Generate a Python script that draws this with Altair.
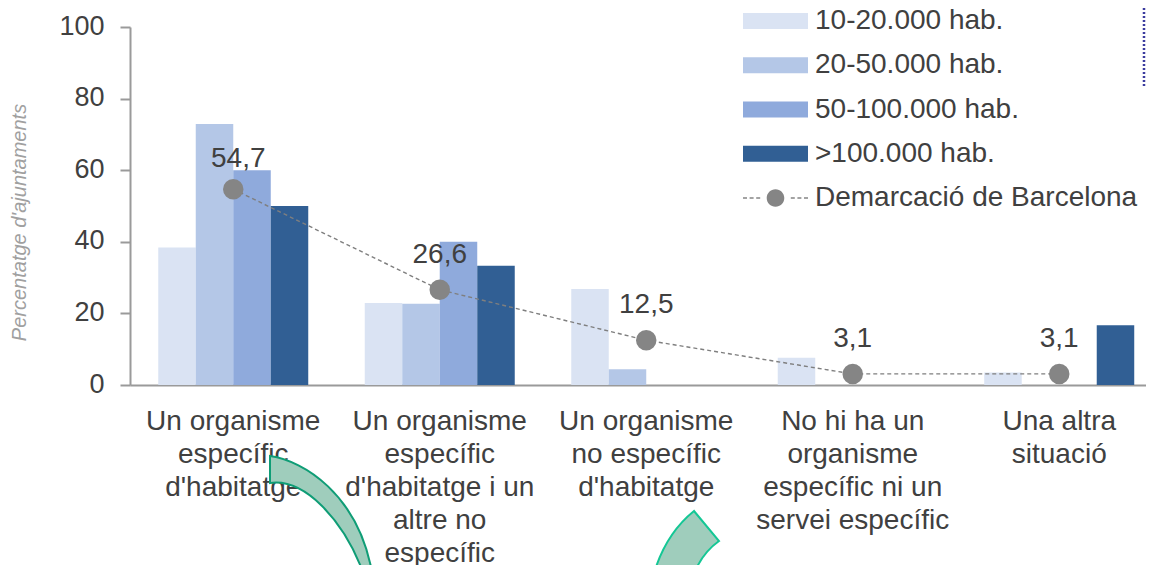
import altair as alt
import pandas as pd

categories = [
    "Un organisme|específic|d'habitatge",
    "Un organisme|específic|d'habitatge i un|altre no|específic",
    "Un organisme|no específic|d'habitatge",
    "No hi ha un|organisme|específic ni un|servei específic",
    "Una altra|situació",
]
bar_series = ["10-20.000 hab.", "20-50.000 hab.", "50-100.000 hab.", ">100.000 hab."]
line_series = "Demarcació de Barcelona"
v_10_20 = [38.4, 22.9, 26.8, 7.6, 3.5]
v_20_50 = [72.9, 22.7, 4.4, None, None]
v_50_100 = [60.0, 40.0, None, None, None]
v_100 = [50.0, 33.3, None, None, 16.7]
barcelona = [54.7, 26.6, 12.5, 3.1, 3.1]
barcelona_labels = ["54,7", "26,6", "12,5", "3,1", "3,1"]
colors = ["#dae3f3", "#b4c7e7", "#8faadc", "#315f94", "#858585"]

rows = []
for s, vals in zip(bar_series, [v_10_20, v_20_50, v_50_100, v_100]):
    for c, v in zip(categories, vals):
        if v is not None:
            rows.append({"cat": c, "series": s, "value": v})
bars_df = pd.DataFrame(rows)
line_df = pd.DataFrame({"cat": categories, "value": barcelona, "label": barcelona_labels, "series": line_series})
legend_df = pd.concat([bars_df, line_df[["cat", "series", "value"]]])
one = pd.DataFrame({"a": [0]})

FONT = "Liberation Sans"
TXT = "#404040"
AX = "#9a9a9a"

x_scale = alt.Scale(domain=categories, paddingInner=0.2736, paddingOuter=0.0969, align=0.706)
y_scale = alt.Scale(domain=[0, 100], nice=False)
all_series = bar_series + [line_series]
color_scale = alt.Scale(domain=all_series, range=colors)

X = alt.X("cat:N", scale=x_scale, sort=categories, title=None,
          axis=alt.Axis(labelExpr="split(datum.label, '|')", labelAngle=0, ticks=False,
                        domainColor=AX, domainWidth=2, labelFont=FONT, labelFontSize=28,
                        labelColor=TXT, labelPadding=36, labelLineHeight=33, labelLimit=0,
                        labelOverlap=False, labelBaseline="middle", grid=False))
Y = alt.Y("value:Q", scale=y_scale,
          axis=alt.Axis(values=[0, 20, 40, 60, 80, 100], tickSize=10, tickWidth=2, tickColor=AX,
                        domainColor=AX, domainWidth=2, labelFont=FONT, labelFontSize=27,
                        labelColor=TXT, labelPadding=16, labelOffset=-1, grid=False,
                        title="Percentatge d'ajuntaments", titleFont=FONT, titleFontSize=20,
                        titleFontStyle="italic", titleFontWeight="normal", titleColor="#a0a0a0",
                        titleX=-101, titleY=195, titleAngle=270))

BAR_SYM = "M-1.625,-0.4H1.625V0.4H-1.625Z"
LINE_SYM = ("M-1.625,-0.035H-1.425V0.035H-1.625Z M-1.295,-0.035H-1.095V0.035H-1.295Z "
            "M-0.965,-0.035H-0.765V0.035H-0.965Z M0.765,-0.035H0.965V0.035H0.765Z "
            "M1.095,-0.035H1.295V0.035H1.095Z M1.425,-0.035H1.625V0.035H1.425Z "
            "M-0.44,0A0.44,0.44 0 1,1 0.44,0A0.44,0.44 0 1,1 -0.44,0Z")
legend_cfg = alt.Legend(orient="none", legendX=625.5, legendY=-26, padding=0,
                        symbolSize=1600, symbolStrokeWidth=0, symbolOpacity=1,
                        labelFont=FONT, labelFontSize=28, labelColor=TXT, labelOffset=19.5,
                        rowPadding=10.25, labelLimit=0, title=None)

bars = alt.Chart(bars_df).mark_bar(stroke=None).encode(
    x=X, y=Y,
    xOffset=alt.XOffset("series:N", scale=alt.Scale(domain=bar_series, paddingInner=0, paddingOuter=0)),
    color=alt.Color("series:N", scale=color_scale, title=None, legend=legend_cfg),
)

line = alt.Chart(line_df).mark_line(color="#7f7f7f", strokeWidth=1.4, strokeDash=[4, 3]).encode(
    x=alt.X("cat:N", scale=x_scale, sort=categories), y=alt.Y("value:Q", scale=y_scale))
points = alt.Chart(line_df).mark_circle(color=colors[4], opacity=1, size=420).encode(
    x=alt.X("cat:N", scale=x_scale, sort=categories), y=alt.Y("value:Q", scale=y_scale))
labels_first = alt.Chart(line_df.iloc[:1]).mark_text(font=FONT, fontSize=28, color=TXT, dy=-30, dx=5).encode(
    x=alt.X("cat:N", scale=x_scale, sort=categories), y=alt.Y("value:Q", scale=y_scale), text="label:N")
labels_rest = alt.Chart(line_df.iloc[1:]).mark_text(font=FONT, fontSize=28, color=TXT, dy=-35).encode(
    x=alt.X("cat:N", scale=x_scale, sort=categories), y=alt.Y("value:Q", scale=y_scale), text="label:N")

legend_layer = alt.Chart(legend_df).mark_point(filled=True, opacity=0).encode(
    x=alt.X("cat:N", scale=x_scale, sort=categories),
    y=alt.Y("value:Q", scale=y_scale),
    color=alt.Color("series:N", scale=color_scale, title=None, legend=legend_cfg),
    shape=alt.Shape("series:N", scale=alt.Scale(domain=all_series, range=[BAR_SYM] * 4 + [LINE_SYM]),
                    title=None, legend=legend_cfg),
)

# Decorative shapes of the reference: relative to the plot origin, drawn as one custom symbol each
ARROW_1 = "M140,429 C175,434 226,468 241,540 L231,540 C212,493 175,451 140,456 Z"
ARROW_2 = "M564,484 Q538,505 526,540 L567,540 Q575,524 589,514 Z"
arrow1 = alt.Chart(one).mark_point(shape=ARROW_1, size=4, filled=True, fill="#9fcdbc", fillOpacity=1,
                                   stroke="#0f9d76", strokeWidth=2, opacity=1).encode(
    x=alt.value(0), y=alt.value(0))
arrow2 = alt.Chart(one).mark_point(shape=ARROW_2, size=4, filled=True, fill="#9fcdbc", fillOpacity=1,
                                   stroke="#14c795", strokeWidth=2, opacity=1).encode(
    x=alt.value(0), y=alt.value(0))
dotted = alt.Chart(one).mark_rule(color="#3b3b9e", strokeWidth=2.5, strokeDash=[2, 2]).encode(
    x=alt.value(1014), y=alt.value(-27), y2=alt.value(61))

chart = alt.layer(bars, line, points, labels_first, labels_rest, legend_layer, arrow1, arrow2, dotted).properties(
    width=1016, height=358,
    padding={"left": 122, "top": 19, "right": 0, "bottom": 180},
    autosize=alt.AutoSizeParams(type="none"),
).configure_view(stroke=None)

chart.save("out.html", embed_options={"renderer": "svg", "actions": False})
